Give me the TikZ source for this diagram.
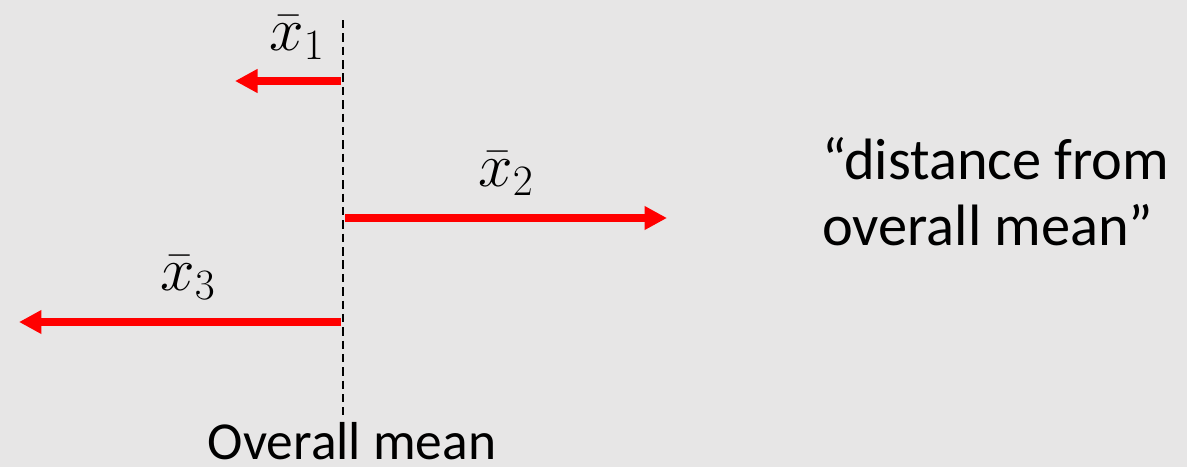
\documentclass[tikz,border=0pt]{standalone}
\usepackage{fix-cm}
\usepackage{fontspec}
\setmainfont{Carlito}
\usetikzlibrary{positioning,arrows.meta}
\definecolor{bggray}{RGB}{231,230,230}

\begin{document}
\begin{tikzpicture}[
x=0.025cm,
y=-0.025cm,
meanline/.style={
draw,
line width=1.4pt,
dash pattern=on 6pt off 3.5pt
},
dist/.style={
draw=red,
line width=5.7pt,
-{Triangle[length=16pt,width=16pt]}
},
barlabel/.style={
font=\fontsize{44}{50}\selectfont,
inner sep=0pt
},
note/.style={
font=\fontsize{41.5}{47}\selectfont,
align=left,
inner sep=0pt
}
]

% background
\fill[bggray] (0,0) rectangle (1187,467);
\useasboundingbox (0,0) rectangle (1187,467);


% overall mean
\coordinate (top) at (343,20);
\coordinate (bot) at (343,415);
\draw[meanline] (top)--(bot);

\node[note,anchor=base,font=\fontsize{38}{44}\selectfont] (overall) at (352,459) {Overall mean};


% group means
\coordinate (s1) at (341,81);
\coordinate (e1) at (235,81);
\coordinate (s2) at (345,218);
\coordinate (e2) at (667,218);
\coordinate (s3) at (341,322);
\coordinate (e3) at (19,322);

\draw[dist] (s1)--(e1);
\draw[dist] (s2)--(e2);
\draw[dist] (s3)--(e3);

\node[barlabel] (x1) at (297,38) {$\bar{x}_1$};
\node[barlabel] (x2) at (506,174) {$\bar{x}_2$};
\node[barlabel] (x3) at (188,278) {$\bar{x}_3$};


% note
\node[note,anchor=west] (dist) at (822,192)
{
“distance from\\
overall mean”
};


\end{tikzpicture}
\end{document}
